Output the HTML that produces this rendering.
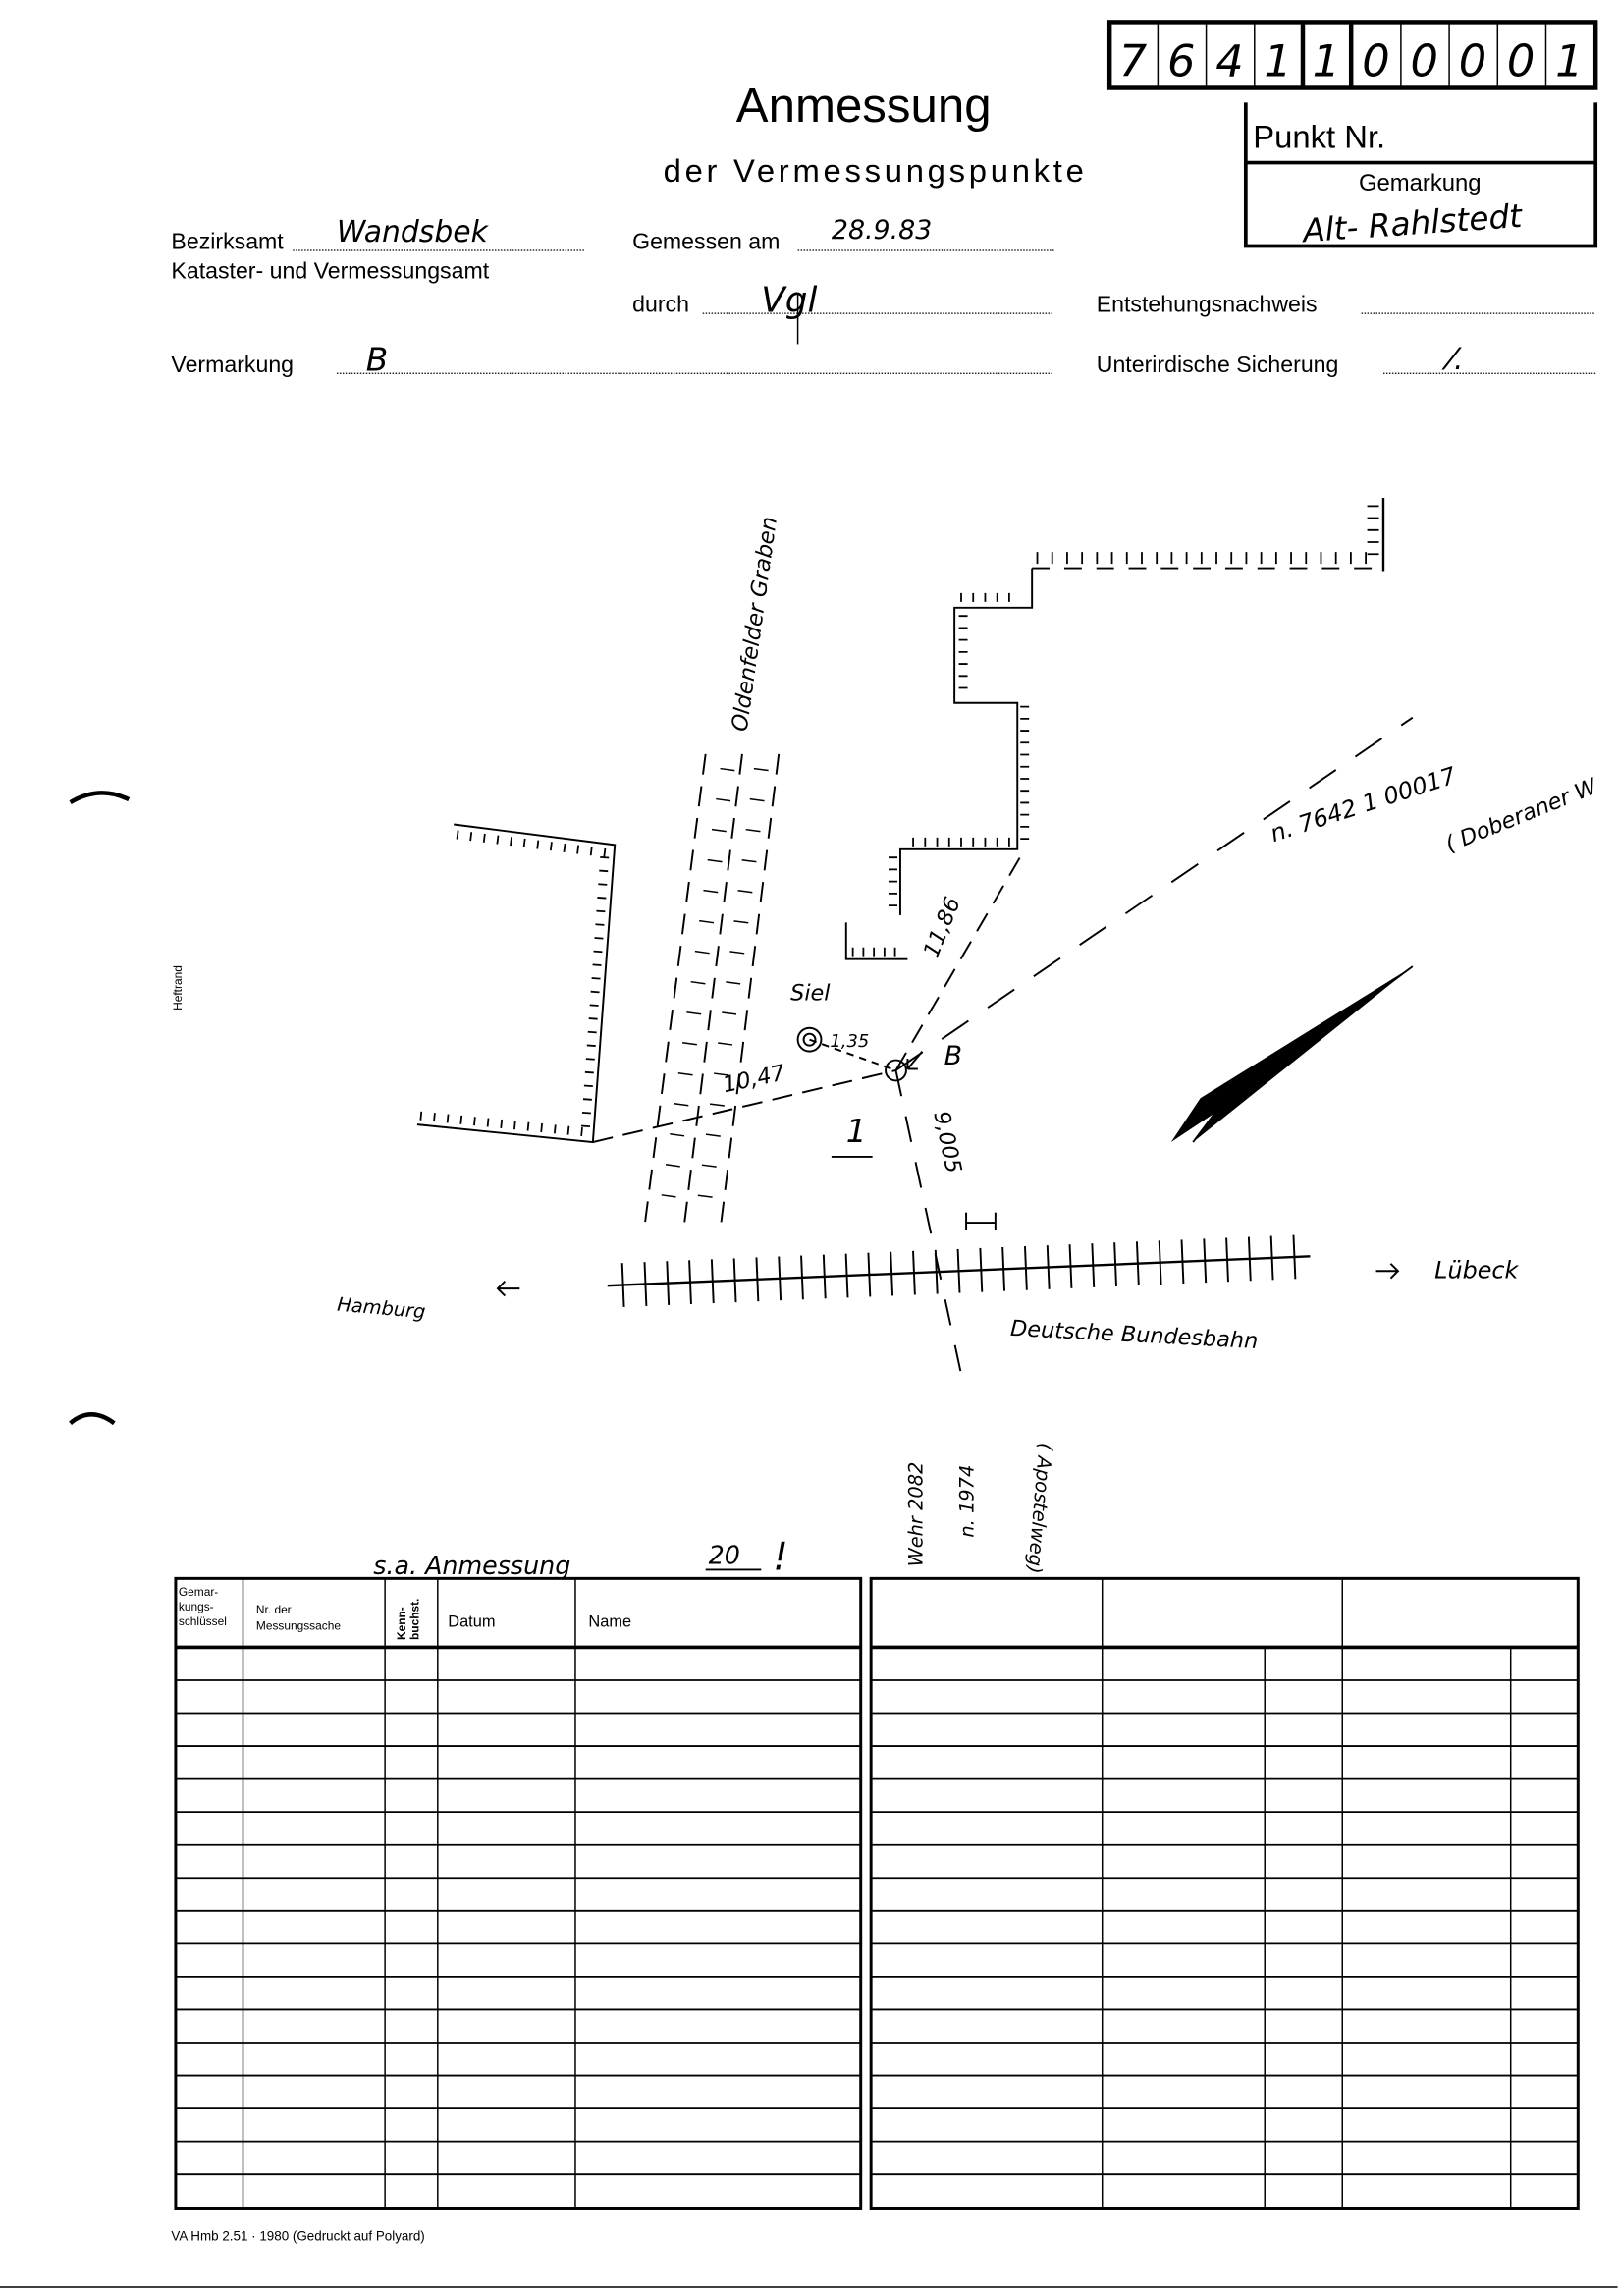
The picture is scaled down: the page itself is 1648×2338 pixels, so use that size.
<!DOCTYPE html>
<html><head><meta charset="utf-8"><style>
html,body{margin:0;padding:0;background:#fff}
svg{display:block}
.f{font-family:"Liberation Sans",sans-serif;fill:#000}
.h{font-family:"DejaVu Sans","Liberation Sans",sans-serif;font-style:italic;fill:#000;font-weight:300}
</style></head><body>
<svg width="1648" height="2338" viewBox="0 0 1105.3 1568" xmlns="http://www.w3.org/2000/svg">
<rect width="1105.3" height="1568" fill="#fff"/>
<rect x="758" y="15" width="332" height="45" fill="none" stroke="#000" stroke-width="3"/>
<g stroke="#000" stroke-width="1">
<path d="M791 15v45M824 15v45M857 15v45M957 15v45M990 15v45M1023 15v45M1056 15v45"/>
</g>
<path d="M890 15v45M923 15v45" stroke="#000" stroke-width="3"/>
<g class="h" font-size="30" text-anchor="middle">
<text x="774" y="52">7</text><text x="807" y="52">6</text><text x="840" y="52">4</text><text x="873" y="52">1</text><text x="906" y="52">1</text><text x="940" y="52">0</text><text x="973" y="52">0</text><text x="1006" y="52">0</text><text x="1039" y="52">0</text><text x="1072" y="52">1</text>
</g>
<text class="f" x="590" y="83" font-size="33" text-anchor="middle">Anmessung</text>
<text class="f" x="598" y="124" font-size="22" text-anchor="middle" letter-spacing="2.5">der Vermessungspunkte</text>
<path d="M851 70V168H1090V70" fill="none" stroke="#000" stroke-width="2.5"/>
<path d="M851 111H1090" stroke="#000" stroke-width="2.5"/>
<text class="f" x="856" y="101" font-size="22">Punkt Nr.</text>
<text class="f" x="970" y="130" font-size="16" text-anchor="middle">Gemarkung</text>
<text class="h" x="965" y="160" font-size="22" text-anchor="middle" transform="rotate(-4 965 155)">Alt- Rahlstedt</text>
<g class="f" font-size="15.5">
<text x="117" y="170">Bezirksamt</text>
<text x="117" y="190">Kataster- und Vermessungsamt</text>
<text x="432" y="170">Gemessen am</text>
<text x="432" y="213">durch</text>
<text x="749" y="213">Entstehungsnachweis</text>
<text x="117" y="254">Vermarkung</text>
<text x="749" y="254">Unterirdische Sicherung</text>
</g>
<g stroke="#000" stroke-width="0.8" stroke-dasharray="1 1">
<path d="M200 171H400M545 171H720M480 214H720M930 214H1090M230 255H720M945 255H1090"/>
</g>
<g class="h">
<text x="230" y="165" font-size="20">Wandsbek</text>
<text x="568" y="163" font-size="18">28.9.83</text>
<text x="520" y="213" font-size="24">Vgl</text>
<text x="250" y="253" font-size="22">B</text>
<text x="990" y="252" font-size="20">⁄.</text>
</g>
<path d="M545 200v35" stroke="#000" stroke-width="1"/>
<text class="f" x="124" y="690" font-size="8" transform="rotate(-90 124 690)">Heftrand</text>
<path d="M48 548q20-12 40-2M48 972q14-12 30 0" fill="none" stroke="#000" stroke-width="3"/>
<g fill="none" stroke="#000" stroke-width="1.3">
<path d="M310 563L420 577L405 780L285 768"/>
<path d="M312 570L418 583" stroke-width="6" stroke-dasharray="1.2 8"/>
<path d="M413 585L400 770" stroke-width="6" stroke-dasharray="1.2 8"/>
<path d="M287 762L398 773" stroke-width="6" stroke-dasharray="1.2 8"/>
<path d="M945 340V390" stroke-width="1.6"/>
<path d="M938 345V385" stroke-width="8" stroke-dasharray="1.2 7"/>
<path d="M705 388H945" stroke-dasharray="12 10"/>
<path d="M708 381H940" stroke-width="8" stroke-dasharray="1.2 9"/>
<path d="M705 388V415H652V480H695V580H615V625"/>
<path d="M690 408H656M658 420V476M700 482V575M690 575H620M610 585V620" stroke-width="6" stroke-dasharray="1.2 7"/>
<path d="M578 630V655H620"/>
<path d="M582 650H618" stroke-width="6" stroke-dasharray="1.2 6"/>
<path d="M482 515L440 840M507 515L467 840M532 515L492 840" stroke-dasharray="14 8"/>
<path d="M497 525L455 830M520 525L480 830" stroke-width="10" stroke-dasharray="1 20"/>
<path d="M405 780L612 731" stroke-dasharray="14 7"/>
<path d="M612 731L700 580" stroke-dasharray="14 8"/>
<path d="M612 731L965 490" stroke-dasharray="22 16"/>
<path d="M612 731L658 945" stroke-dasharray="18 14"/>
<path d="M553 710L612 731" stroke-dasharray="5 4"/>
<circle cx="612" cy="731" r="7"/>
<circle cx="553" cy="710" r="8"/><circle cx="553" cy="710" r="4"/>
<path d="M630 718l-10 12m0 0v-7m0 7h7"/>
<path d="M660 828v12M660 835h20M680 828v12"/>
<path d="M415 878L895 858" stroke-width="1.6"/>
<path d="M425 877.6L890 858.2" stroke-width="30" stroke-dasharray="1.3 14"/>
<path d="M355 880h-15m5-5l-5 5 5 5M940 868h15m-5-5l5 5-5 5"/>
</g>
<path d="M965 660L820 750L800 780L830 760L815 780Z" fill="#000"/>
<path d="M965 660L830 760M830 760L815 780" stroke="#000" stroke-width="1.3" fill="none"/>
<g class="h" font-size="15">
<text x="510" y="500" transform="rotate(-82 510 500)">Oldenfelder Graben</text>
<text x="540" y="683">Siel</text>
<text x="567" y="715" font-size="12">1,35</text>
<text x="645" y="727" font-size="18">B</text>
<text x="495" y="746" transform="rotate(-12 495 746)">10,47</text>
<text x="640" y="655" transform="rotate(-68 640 655)">11,86</text>
<text x="638" y="760" transform="rotate(78 638 760)">9,005</text>
<text x="578" y="780" font-size="22">1</text>
<text x="870" y="575" font-size="16" transform="rotate(-18 870 575)">n. 7642 1 00017</text>
<text x="990" y="582" font-size="15" transform="rotate(-22 990 582)">( Doberaner W</text>
<text x="230" y="895" font-size="13" transform="rotate(5 230 895)">Hamburg</text>
<text x="980" y="873" font-size="16">Lübeck</text>
<text x="690" y="912" transform="rotate(3 690 912)">Deutsche  Bundesbahn</text>
<text x="630" y="1070" font-size="13" transform="rotate(-90 630 1070)">Wehr 2082</text>
<text x="665" y="1050" font-size="13" transform="rotate(-90 665 1050)">n. 1974</text>
<text x="710" y="985" font-size="13" transform="rotate(95 710 985)">( Apostelweg)</text>
<text x="255" y="1075" font-size="17">s.a. Anmessung</text>
<text x="484" y="1068" font-size="17">20</text>
<text x="528" y="1072" font-size="26">!</text>
</g>
<path d="M568 790h28M482 1072h38" stroke="#000" stroke-width="1.3"/>
<g fill="none" stroke="#000">
<rect x="120" y="1078" width="468" height="430" stroke-width="2"/>
<path d="M120 1125H588" stroke-width="2.5"/>
<path d="M166 1078V1508M263 1078V1508M299 1078V1508M393 1078V1508" stroke-width="1"/>
<path d="M120 1147.5h468m-468 22.5h468m-468 22.5h468m-468 22.5h468m-468 22.5h468m-468 22.5h468m-468 22.5h468m-468 22.5h468m-468 22.5h468m-468 22.5h468m-468 22.5h468m-468 22.5h468m-468 22.5h468m-468 22.5h468m-468 22.5h468m-468 22.5h468" stroke-width="1.2"/>
<rect x="595" y="1078" width="483" height="430" stroke-width="2"/>
<path d="M595 1125H1078" stroke-width="2.5"/>
<path d="M753 1078V1508M917 1078V1508M864 1125V1508M1032 1125V1508" stroke-width="1"/>
<path d="M595 1147.5h483m-483 22.5h483m-483 22.5h483m-483 22.5h483m-483 22.5h483m-483 22.5h483m-483 22.5h483m-483 22.5h483m-483 22.5h483m-483 22.5h483m-483 22.5h483m-483 22.5h483m-483 22.5h483m-483 22.5h483m-483 22.5h483m-483 22.5h483" stroke-width="1.2"/>
</g>
<g class="f" font-size="8">
<text x="122" y="1090">Gemar-</text><text x="122" y="1100">kungs-</text><text x="122" y="1110">schlüssel</text>
<text x="175" y="1102">Nr. der</text><text x="175" y="1113">Messungssache</text>
<text x="277" y="1120" font-weight="bold" transform="rotate(-90 277 1120)">Kenn-</text>
<text x="286" y="1120" font-weight="bold" transform="rotate(-90 286 1120)">buchst.</text>
</g>
<g class="f" font-size="11"><text x="306" y="1111">Datum</text><text x="402" y="1111">Name</text></g>
<text class="f" x="117" y="1530" font-size="9">VA Hmb 2.51 · 1980 (Gedruckt auf Polyard)</text>
<path d="M0 1562H1105" stroke="#000" stroke-width="1"/>
</svg>
</body></html>
